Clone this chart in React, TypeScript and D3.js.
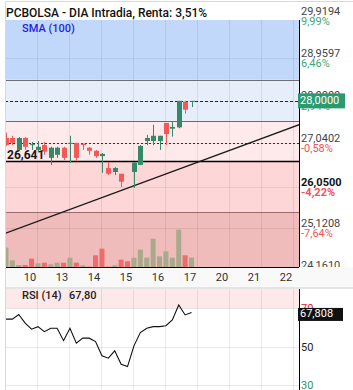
import { useEffect, useRef } from 'react'
import * as d3 from 'd3'

const W = 353
const H = 390
const PLOT = { left: 5, right: 299, top: 20, bottom: 267 }
const RSI_AREA = { top: 289, bottom: 390 }

// day labels under the x axis (5 bars per day)
const days = ['10', '13', '14', '15', '16', '17', '20', '21', '22']

// OHLC (NaN = no bar)
const opens = [27.16, 27.16, 26.89, 27.16, 27.0, 26.89, 27.0, 26.71, 26.78, 26.94, 27.03, 27.05, 27.03, 26.94, 26.87, 26.75, 26.48, 26.39, 26.35, NaN, 26.39, 26.55, 27.09, 27.09, 27.09, 27.5, 27.37, 27.4, 27.98, 28.0]
const closes = [27.0, 27.05, 27.16, 26.96, 27.02, 26.96, 26.85, 26.94, 26.94, 26.71, 27.05, 26.71, 27.0, 26.87, 26.75, 26.8, 26.35, 26.48, 26.17, NaN, 26.6, 26.98, 27.16, 27.21, 27.21, 27.25, 27.41, 28.0, 27.8, 28.0]
const highs = [27.28, 27.21, 27.18, 27.18, 27.07, 27.09, 27.07, 26.96, 26.96, 26.96, 27.21, 27.05, 27.03, 26.96, 26.89, 26.82, 26.62, 26.5, 26.35, NaN, 26.62, 27.0, 27.23, 27.46, 27.21, 27.5, 27.52, 28.0, 28.0, 28.0]
const lows = [26.98, 27.0, 26.87, 26.89, 26.89, 26.85, 26.78, 26.55, 26.71, 26.66, 26.6, 26.64, 26.89, 26.78, 26.71, 26.37, 26.32, 26.32, 26.05, NaN, 26.03, 26.55, 27.0, 27.0, 26.89, 27.0, 27.19, 27.38, 27.71, 27.86]
const volumes = [19400, 6700, 2000, 2000, 8300, 3700, 4300, 2700, 4300, 4300, 9300, 4300, 1700, 400, 11700, 18300, 400, 1700, 7300, 5700, 9300, 17300, 9300, 28300, 10700, 15700, 9300, 37400, 11700, 9300]
const volumeUp = [1, 1, 1, 0, 0, 1, 0, 1, 1, 0, 1, 0, 1, 0, 0, 0, 0, 1, 0, 0, 1, 1, 1, 1, 1, 1, 1, 1, 0, 1]
const rsi = [64.3, 64.3, 66.7, 62.2, 59.1, 60.4, 57.8, 59.6, 59.6, 53.1, 59.6, 51.8, 54.4, 54.4, 52.6, 45.2, 44.0, 47.8, 40.8, 39.6, 50.4, 57.3, 59.6, 60.4, 60.4, 60.9, 63.9, 71.7, 66.5, 67.8]

const priceTicks = [29.9194, 28.9597, 28.0, 27.0402, 26.05, 25.1208, 24.161]
const priceTickLabels = ['29,9194', '28,9597', '28,0000', '27,0402', '26,0500', '25,1208', '24,1610']
const pctLabels = ['9,99%', '6,46%', '2,94%', '-0,58%', '-4,22%', '-7,64%', '']
const bandLevels = [28.476, 27.547, 26.641, 25.486]
const bandColors = ['#c2d8fa', '#e5eefa', '#feeaeb', '#fdd6d7', '#efbbbb']
const levelColors = ['#6f6f6f', '#6a6a6a', '#000000', '#9c6b6e']
const trendIdx = [-0.15, 45.95]
const trendVals = [25.0, 27.47]
const lastPrice = 28.0
const refPrice = 27.05
const supportLevel = 26.641
const rsiLevels = [70, 50, 30]
const rsiLevelColors = ['#e02020', '#222222', '#2a9a60']

const GREEN = '#348a68'
const RED = '#f25a5a'

export default function App() {
    const svgRef = useRef<SVGSVGElement | null>(null)

    useEffect(() => {
        const svg = d3.select(svgRef.current)
        svg.selectAll('*').remove()
        const font = 'Roboto, sans-serif'

        const x = d3.scaleLinear().domain([-0.15, 45.95]).range([5, 300])
        const y = d3.scaleLinear().domain([24.24, 29.83]).range([PLOT.bottom, PLOT.top])
        const vy = d3.scaleLinear().domain([0, 40000]).range([PLOT.bottom, PLOT.bottom - 40])
        const ry = d3.scaleLinear().domain([27, 80]).range([390.8, 289])

        svg.append('rect').attr('width', W).attr('height', H).attr('fill', '#fff')

        const defs = svg.append('defs')
        defs.append('clipPath').attr('id', 'clipMain').append('rect')
            .attr('x', PLOT.left).attr('y', PLOT.top)
            .attr('width', PLOT.right - PLOT.left).attr('height', PLOT.bottom - PLOT.top)
        defs.append('clipPath').attr('id', 'clipRsi').append('rect')
            .attr('x', PLOT.left).attr('y', RSI_AREA.top)
            .attr('width', PLOT.right - PLOT.left).attr('height', RSI_AREA.bottom - RSI_AREA.top)

        // title
        svg.append('text')
            .attr('x', 6).attr('y', 17)
            .attr('font-family', font).attr('font-size', 12).attr('font-weight', 500)
            .attr('fill', '#111')
            .text('PCBOLSA - DIA Intradia, Renta: 3,51%')

        const main = svg.append('g').attr('clip-path', 'url(#clipMain)')

        // coloured bands between the levels
        const edges = [29.83, ...bandLevels, 24.24]
        main.selectAll('.band')
            .data(bandColors)
            .enter()
            .append('rect')
            .attr('x', PLOT.left)
            .attr('width', PLOT.right - PLOT.left)
            .attr('y', (d, i) => y(edges[i]))
            .attr('height', (d, i) => y(edges[i + 1]) - y(edges[i]))
            .attr('fill', d => d)

        // grid
        const gridIdx = days.map((d, k) => k * 5 + 4.9)
        main.selectAll('.vgrid')
            .data(gridIdx)
            .enter()
            .append('line')
            .attr('x1', d => Math.round(x(d)) + 0.5).attr('x2', d => Math.round(x(d)) + 0.5)
            .attr('y1', PLOT.top).attr('y2', PLOT.bottom)
            .attr('stroke', 'rgba(0,0,0,0.08)')
        main.selectAll('.hgrid')
            .data(priceTicks)
            .enter()
            .append('line')
            .attr('x1', PLOT.left).attr('x2', PLOT.right)
            .attr('y1', d => Math.round(y(d)) + 0.5).attr('y2', d => Math.round(y(d)) + 0.5)
            .attr('stroke', 'rgba(0,0,0,0.07)')

        // level lines
        main.selectAll('.level')
            .data(bandLevels)
            .enter()
            .append('line')
            .attr('x1', PLOT.left).attr('x2', PLOT.right)
            .attr('y1', d => Math.round(y(d)) + 0.5).attr('y2', d => Math.round(y(d)) + 0.5)
            .attr('stroke', (d, i) => levelColors[i])
            .attr('stroke-width', (d, i) => i === 2 ? 1.5 : 1)

        // volume
        main.selectAll('.vol')
            .data(volumes)
            .enter()
            .append('rect')
            .attr('x', (d, i) => x(i) - 2.5)
            .attr('width', 5)
            .attr('y', d => vy(d))
            .attr('height', d => PLOT.bottom - vy(d))
            .attr('fill', (d, i) => volumeUp[i] ? '#a8aa8b' : '#ef6c6c')

        // reference (previous) price, dotted
        main.append('line')
            .attr('x1', PLOT.left).attr('x2', PLOT.right)
            .attr('y1', Math.round(y(refPrice)) + 0.5).attr('y2', Math.round(y(refPrice)) + 0.5)
            .attr('stroke', '#333').attr('stroke-dasharray', '2,2')

        // last price, dashed blue
        main.append('line')
            .attr('x1', PLOT.left).attr('x2', PLOT.right)
            .attr('y1', Math.round(y(lastPrice)) + 0.5).attr('y2', Math.round(y(lastPrice)) + 0.5)
            .attr('stroke', '#1212d0').attr('stroke-dasharray', '3,2')

        // trend line
        main.append('line')
            .attr('x1', x(trendIdx[0])).attr('y1', y(trendVals[0]))
            .attr('x2', x(trendIdx[1])).attr('y2', y(trendVals[1]))
            .attr('stroke', '#1a1a1a').attr('stroke-width', 1.4)

        // candles
        const bars = opens.map((o, i) => ({ i, o, c: closes[i], h: highs[i], l: lows[i] }))
            .filter(d => !isNaN(d.o))
        const cg = main.selectAll('.candle')
            .data(bars)
            .enter()
            .append('g')
        cg.append('line')
            .attr('x1', d => Math.round(x(d.i)) + 0.5).attr('x2', d => Math.round(x(d.i)) + 0.5)
            .attr('y1', d => y(d.h)).attr('y2', d => y(d.l))
            .attr('stroke', d => d.c >= d.o ? GREEN : RED)
        cg.append('rect')
            .attr('x', d => Math.round(x(d.i)) - 2)
            .attr('width', 5)
            .attr('y', d => y(Math.max(d.o, d.c)))
            .attr('height', d => Math.max(1, Math.abs(y(d.o) - y(d.c))))
            .attr('fill', d => d.c >= d.o ? GREEN : RED)

        // labels inside the plot
        svg.append('text')
            .attr('x', 22).attr('y', 32)
            .attr('font-family', font).attr('font-size', 11).attr('font-weight', 500)
            .attr('fill', '#1f1fe0')
            .text('SMA (100)')
        svg.append('text')
            .attr('x', 7).attr('y', y(supportLevel) - 2)
            .attr('font-family', font).attr('font-size', 12).attr('font-weight', 'bold')
            .attr('fill', '#1a1a1a')
            .text('26,641')

        // right price axis
        svg.append('line')
            .attr('x1', PLOT.right + 0.5).attr('x2', PLOT.right + 0.5)
            .attr('y1', PLOT.top).attr('y2', PLOT.bottom)
            .attr('stroke', '#000')
        const tickG = svg.selectAll('.ptick')
            .data(priceTicks)
            .enter()
            .append('g')
        tickG.append('text')
            .attr('x', 301).attr('y', d => y(d) - 1.5)
            .attr('font-family', font).attr('font-size', 11)
            .attr('font-weight', (d, i) => i === 4 ? 'bold' : 'normal')
            .attr('fill', (d, i) => i === 4 ? '#111' : '#444')
            .text((d, i) => priceTickLabels[i])
        tickG.append('text')
            .attr('x', 301).attr('y', d => y(d) + 9)
            .attr('font-family', font).attr('font-size', 11)
            .attr('font-weight', (d, i) => i === 4 ? 'bold' : 'normal')
            .attr('fill', (d, i) => pctLabels[i].startsWith('-') ? '#f25555' : '#3aa878')
            .text((d, i) => pctLabels[i])

        // current price box
        svg.append('rect')
            .attr('x', 298).attr('y', y(lastPrice) - 7.5)
            .attr('width', 47).attr('height', 15)
            .attr('fill', '#2a9b6e')
        svg.append('text')
            .attr('x', 300).attr('y', y(lastPrice) + 3.5)
            .attr('font-family', font).attr('font-size', 11)
            .attr('fill', '#fff')
            .text('28,0000')

        // x axis band
        svg.append('rect')
            .attr('x', PLOT.left).attr('y', PLOT.bottom)
            .attr('width', W - PLOT.left).attr('height', 20)
            .attr('fill', '#f9f9f9')
        svg.append('line')
            .attr('x1', PLOT.left).attr('x2', PLOT.right)
            .attr('y1', PLOT.bottom + 0.5).attr('y2', PLOT.bottom + 0.5)
            .attr('stroke', '#000')
        svg.append('rect')
            .attr('x', PLOT.left).attr('y', RSI_AREA.top - 2)
            .attr('width', W - PLOT.left).attr('height', 2)
            .attr('fill', '#e4e4e4')
        svg.selectAll('.day')
            .data(days)
            .enter()
            .append('text')
            .attr('x', (d, k) => x(k * 5 + 3.75))
            .attr('y', 281)
            .attr('text-anchor', 'middle')
            .attr('font-family', font).attr('font-size', 11)
            .attr('fill', '#333')
            .text(d => d)

        // RSI panel
        const rsiG = svg.append('g').attr('clip-path', 'url(#clipRsi)')
        rsiG.append('rect')
            .attr('x', PLOT.left).attr('y', RSI_AREA.top)
            .attr('width', PLOT.right - PLOT.left).attr('height', ry(70) - RSI_AREA.top)
            .attr('fill', '#fde8ea')
        rsiG.selectAll('.rv')
            .data(gridIdx)
            .enter()
            .append('line')
            .attr('x1', d => Math.round(x(d)) + 0.5).attr('x2', d => Math.round(x(d)) + 0.5)
            .attr('y1', RSI_AREA.top).attr('y2', RSI_AREA.bottom)
            .attr('stroke', 'rgba(0,0,0,0.08)')
        rsiG.selectAll('.rh')
            .data(rsiLevels)
            .enter()
            .append('line')
            .attr('x1', PLOT.left).attr('x2', PLOT.right)
            .attr('y1', d => Math.round(ry(d)) + 0.5).attr('y2', d => Math.round(ry(d)) + 0.5)
            .attr('stroke', 'rgba(0,0,0,0.09)')
        const rsiLine = d3.line<number>()
            .x((d, i) => x(i))
            .y(d => ry(d))
        rsiG.append('path')
            .attr('d', rsiLine(rsi))
            .attr('fill', 'none')
            .attr('stroke', '#111')
            .attr('stroke-width', 1.1)

        svg.append('text')
            .attr('x', 22).attr('y', 299)
            .attr('font-family', font).attr('font-size', 11).attr('font-weight', 500)
            .attr('fill', '#222')
            .text('RSI (14)')
        svg.append('text')
            .attr('x', 69).attr('y', 299)
            .attr('font-family', font).attr('font-size', 11).attr('font-weight', 500)
            .attr('fill', '#222')
            .text('67,80')

        svg.append('line')
            .attr('x1', PLOT.right + 0.5).attr('x2', PLOT.right + 0.5)
            .attr('y1', RSI_AREA.top).attr('y2', RSI_AREA.bottom)
            .attr('stroke', '#000')
        svg.selectAll('.rtick')
            .data(rsiLevels)
            .enter()
            .append('text')
            .attr('x', 301).attr('y', d => ry(d) + 4)
            .attr('font-family', font).attr('font-size', 11)
            .attr('fill', (d, i) => rsiLevelColors[i])
            .text(d => d)
        svg.append('rect')
            .attr('x', 298).attr('y', ry(rsi[rsi.length - 1]) - 4.5)
            .attr('width', 45).attr('height', 13)
            .attr('fill', '#111')
        svg.append('text')
            .attr('x', 300).attr('y', ry(rsi[rsi.length - 1]) + 5)
            .attr('font-family', font).attr('font-size', 11)
            .attr('fill', '#fff')
            .text('67,808')

        // outer frame
        svg.append('path')
            .attr('d', `M${PLOT.left + 0.5},${H} V1.5 H${W}`)
            .attr('fill', 'none')
            .attr('stroke', '#d9d9d9')
    }, [])

    return (
        <svg
            ref={svgRef}
            width={W}
            height={H}
            style={{ position: 'absolute', left: 0, top: 0, display: 'block' }}
        />
    )
}
